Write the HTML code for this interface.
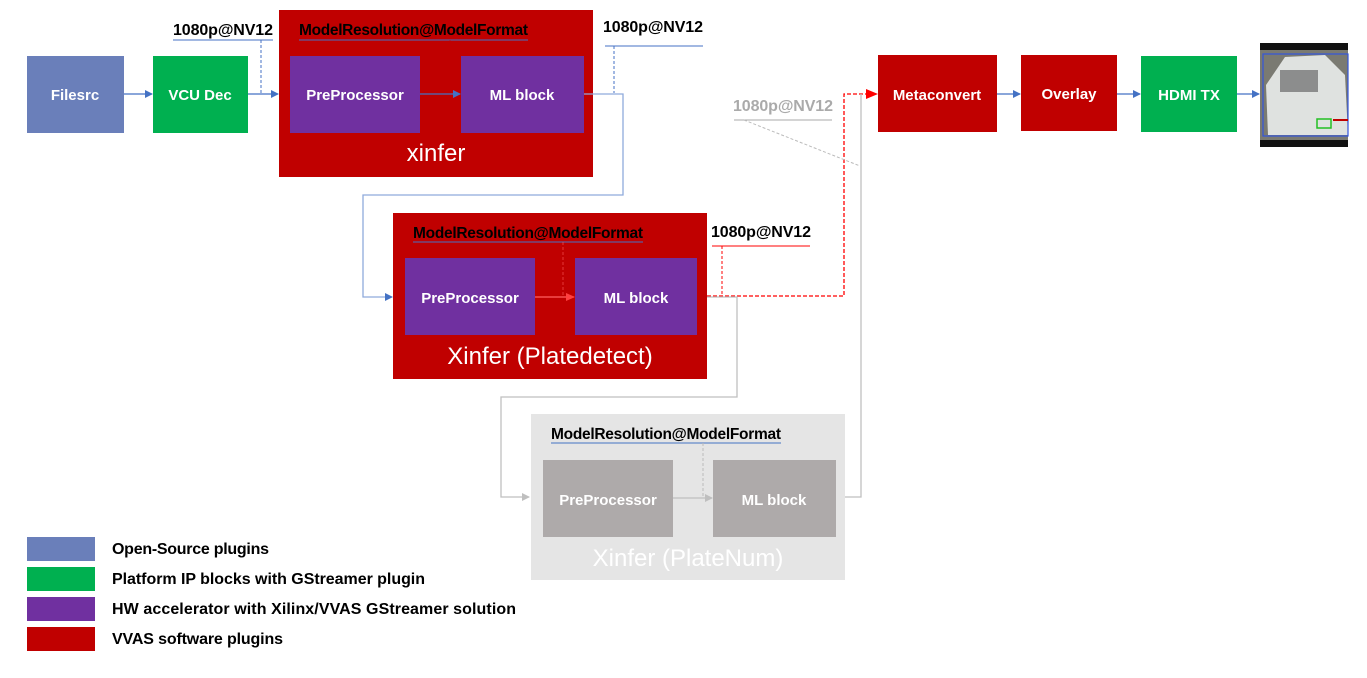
<!DOCTYPE html>
<html><head><meta charset="utf-8"><style>
body{margin:0;background:#fff}
svg{display:block}
text{font-family:"Liberation Sans",Arial,sans-serif}
.b{font-weight:bold;font-size:15px;fill:#fff}
.k{font-weight:bold;font-size:16px;fill:#000}
.m{font-weight:bold;font-size:15.5px;fill:#000}
.l{font-weight:bold;font-size:16px;fill:#000}
</style></head><body>
<svg width="1367" height="678" viewBox="0 0 1367 678" xmlns="http://www.w3.org/2000/svg">
<defs>
<marker id="ab" markerWidth="8" markerHeight="8" refX="7" refY="4" orient="auto" markerUnits="userSpaceOnUse"><path d="M0,0L8,4L0,8z" fill="#4472c4"/></marker>
<marker id="ar" markerWidth="12" markerHeight="10" refX="11" refY="5" orient="auto" markerUnits="userSpaceOnUse"><path d="M0,0L12,5L0,10z" fill="#ff0000"/></marker>
<marker id="ag" markerWidth="8" markerHeight="8" refX="7" refY="4" orient="auto" markerUnits="userSpaceOnUse"><path d="M0,0L8,4L0,8z" fill="#bfbfbf"/></marker>
</defs>
<rect x="27" y="56" width="97" height="77" fill="#6a7fba"/>
<text x="75" y="100" class="b" text-anchor="middle">Filesrc</text>
<rect x="153" y="56" width="95" height="77" fill="#00b050"/>
<text x="200" y="100" class="b" text-anchor="middle">VCU Dec</text>
<rect x="279" y="10" width="314" height="167" fill="#c00000"/>
<rect x="290" y="56" width="130" height="77" fill="#7030a0"/>
<text x="355" y="100" class="b" text-anchor="middle">PreProcessor</text>
<rect x="461" y="56" width="123" height="77" fill="#7030a0"/>
<text x="522" y="100" class="b" text-anchor="middle">ML block</text>
<text x="436" y="161" font-size="24" fill="#fff" text-anchor="middle">xinfer</text>
<text x="299" y="35" class="m" textLength="229">ModelResolution@ModelFormat</text>
<line x1="299" y1="40" x2="528" y2="40" stroke="#4472c4"/>
<line x1="450" y1="40" x2="450" y2="95" stroke="#c00000" stroke-dasharray="3,2" opacity=".5"/>
<text x="173" y="35" class="k" textLength="100">1080p@NV12</text>
<line x1="173" y1="40" x2="273" y2="40" stroke="#4472c4"/>
<line x1="261" y1="40" x2="261" y2="94" stroke="#4472c4" stroke-dasharray="3,2"/>
<text x="603" y="32" class="k" textLength="100">1080p@NV12</text>
<line x1="605" y1="46" x2="703" y2="46" stroke="#4472c4"/>
<line x1="614" y1="46" x2="614" y2="93" stroke="#4472c4" stroke-dasharray="3,2"/>
<line x1="124" y1="94" x2="152" y2="94" stroke="#4472c4" stroke-width="1.3" marker-end="url(#ab)"/>
<line x1="248" y1="94" x2="278" y2="94" stroke="#4472c4" stroke-width="1.3" marker-end="url(#ab)"/>
<line x1="420" y1="94" x2="460" y2="94" stroke="#4472c4" stroke-width="1.3" marker-end="url(#ab)"/>
<polyline points="584,94 623,94 623,195 363,195 363,297 392,297" fill="none" stroke="#8faadc" stroke-width="1.3" marker-end="url(#ab)"/>
<rect x="393" y="213" width="314" height="166" fill="#c00000"/>
<rect x="405" y="258" width="130" height="77" fill="#7030a0"/>
<text x="470" y="303" class="b" text-anchor="middle">PreProcessor</text>
<rect x="575" y="258" width="122" height="77" fill="#7030a0"/>
<text x="636" y="303" class="b" text-anchor="middle">ML block</text>
<text x="550" y="364" font-size="24" fill="#fff" text-anchor="middle">Xinfer (Platedetect)</text>
<text x="413" y="238" class="m" textLength="230">ModelResolution@ModelFormat</text>
<line x1="413" y1="242" x2="643" y2="242" stroke="#4472c4"/>
<line x1="563" y1="242" x2="563" y2="297" stroke="#ff6060" stroke-dasharray="3,2" opacity=".6"/>
<line x1="535" y1="297" x2="574" y2="297" stroke="#ff6060" stroke-width="1.3"/>
<path d="M566,293L575,297L566,301z" fill="#ff4040"/>
<text x="711" y="237" class="k" textLength="100">1080p@NV12</text>
<line x1="712" y1="246" x2="810" y2="246" stroke="#ff0000"/>
<line x1="722" y1="246" x2="722" y2="296" stroke="#ff0000" stroke-dasharray="3,2"/>
<polyline points="707,296 844,296 844,94 877,94" fill="none" stroke="#ff0000" stroke-width="1.3" stroke-dasharray="4,2" marker-end="url(#ar)"/>
<text x="733" y="111" font-weight="bold" font-size="16" fill="#aaa" textLength="100">1080p@NV12</text>
<line x1="734" y1="120" x2="832" y2="120" stroke="#aaa"/>
<line x1="744" y1="120" x2="860" y2="166" stroke="#bbb" stroke-dasharray="3,2"/>
<polyline points="707,297 737,297 737,397 501,397 501,497 529,497" fill="none" stroke="#bfbfbf" stroke-width="1.3" marker-end="url(#ag)"/>
<polyline points="836,497 861,497 861,94" fill="none" stroke="#bfbfbf" stroke-width="1.3"/>
<rect x="531" y="414" width="314" height="166" fill="#e5e5e5"/>
<rect x="543" y="460" width="130" height="77" fill="#aeaaaa"/>
<text x="608" y="505" class="b" text-anchor="middle">PreProcessor</text>
<rect x="713" y="460" width="123" height="77" fill="#aeaaaa"/>
<text x="774" y="505" class="b" text-anchor="middle">ML block</text>
<text x="688" y="566" font-size="24" fill="#fff" text-anchor="middle">Xinfer (PlateNum)</text>
<text x="551" y="439" class="m" textLength="230">ModelResolution@ModelFormat</text>
<line x1="551" y1="443" x2="781" y2="443" stroke="#4472c4"/>
<line x1="703" y1="443" x2="703" y2="497" stroke="#bbb" stroke-dasharray="3,2"/>
<line x1="673" y1="498" x2="712" y2="498" stroke="#bfbfbf" stroke-width="1.3" marker-end="url(#ag)"/>
<rect x="878" y="55" width="119" height="77" fill="#c00000"/>
<text x="937" y="100" class="b" text-anchor="middle">Metaconvert</text>
<rect x="1021" y="55" width="96" height="76" fill="#c00000"/>
<text x="1069" y="99" class="b" text-anchor="middle">Overlay</text>
<rect x="1141" y="56" width="96" height="76" fill="#00b050"/>
<text x="1189" y="100" class="b" text-anchor="middle">HDMI TX</text>
<line x1="997" y1="94" x2="1020" y2="94" stroke="#4472c4" stroke-width="1.3" marker-end="url(#ab)"/>
<line x1="1117" y1="94" x2="1140" y2="94" stroke="#4472c4" stroke-width="1.3" marker-end="url(#ab)"/>
<line x1="1237" y1="94" x2="1259" y2="94" stroke="#4472c4" stroke-width="1.3" marker-end="url(#ab)"/>
<rect x="1260" y="43" width="88" height="104" fill="#111"/>
<rect x="1260" y="50" width="88" height="90" fill="#7a7a72"/>
<path d="M1268,135 L1266,85 L1285,57 L1325,55 L1345,75 L1348,135 Z" fill="#dfe2e0"/>
<rect x="1280" y="70" width="38" height="22" fill="#555" opacity=".6"/>
<rect x="1263" y="54" width="85" height="82" fill="none" stroke="#3355dd" stroke-width="1.2"/>
<rect x="1317" y="119" width="14" height="9" fill="none" stroke="#22c022" stroke-width="1.5"/>
<line x1="1333" y1="120" x2="1348" y2="120" stroke="#c00000" stroke-width="2"/>
<rect x="27" y="537" width="68" height="24" fill="#6a7fba"/>
<rect x="27" y="567" width="68" height="24" fill="#00b050"/>
<rect x="27" y="597" width="68" height="24" fill="#7030a0"/>
<rect x="27" y="627" width="68" height="24" fill="#c00000"/>
<text x="112" y="554" class="l" textLength="157">Open-Source plugins</text>
<text x="112" y="584" class="l" textLength="313">Platform IP blocks with GStreamer plugin</text>
<text x="112" y="614" class="l" textLength="404">HW accelerator with Xilinx/VVAS GStreamer solution</text>
<text x="112" y="644" class="l" textLength="171">VVAS software plugins</text>
</svg>
</body></html>
